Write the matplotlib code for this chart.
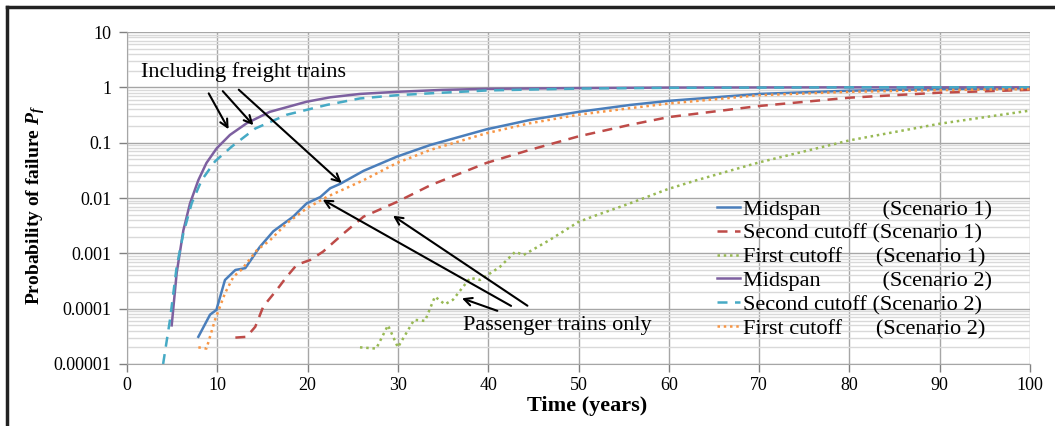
import numpy as np
import matplotlib.pyplot as plt
from matplotlib.ticker import LogLocator, FixedFormatter, FixedLocator
from matplotlib.lines import Line2D

plt.rcParams['font.family'] = ['Liberation Serif', 'DejaVu Serif']
plt.rcParams['mathtext.fontset'] = 'custom'
plt.rcParams['mathtext.it'] = 'Liberation Serif:italic:bold'
plt.rcParams['mathtext.rm'] = 'Liberation Serif:bold'

# Scenario 1 - midspan
t_mid1 = [7.9, 9.2, 9.9, 10.85, 12.0, 13.1, 14.7, 16.2, 18.4, 19.9, 21.4, 22.5, 23.6, 26.2, 29.9, 33.6,
          39.8, 44.6, 50.0, 55.7, 60, 70, 80, 90, 100]
p_mid1 = [3.1e-5, 7.8e-5, 9.5e-5, 3.3e-4, 5.0e-4, 5.4e-4, 1.3e-3, 2.5e-3, 4.6e-3, 8e-3, 0.0104, 0.015,
          0.018, 0.031, 0.056, 0.091, 0.174, 0.257, 0.36, 0.48, 0.57, 0.76, 0.87, 0.93, 0.96]
# Scenario 1 - second cutoff
t_sec1 = [12.0, 13.25, 14.2, 15.1, 16.6, 17.7, 18.8, 20.3, 21.7, 24.0, 26.2, 29.9, 33.6, 39.8, 44.6, 50.0,
          55.7, 60, 70, 80, 90, 100]
p_sec1 = [3e-5, 3.1e-5, 4.7e-5, 1.1e-4, 2.2e-4, 3.8e-4, 6.2e-4, 7.6e-4, 1.07e-3, 2.3e-3, 4.6e-3, 8.5e-3,
          0.017, 0.043, 0.074, 0.13, 0.21, 0.29, 0.46, 0.65, 0.80, 0.90]
# Scenario 1 - first cutoff
t_fst1 = [25.8, 27.6, 28.9, 30.0, 31.8, 33.0, 34.1, 35.2, 36.1, 38.0, 39.1, 41.3, 43.0, 43.9, 46.8, 50.0,
          52.0, 55.7, 59.9, 63.1, 70, 80, 90, 100]
p_fst1 = [2e-5, 1.9e-5, 5e-5, 2e-5, 6.3e-5, 6e-5, 1.65e-4, 1.2e-4, 1.45e-4, 3.6e-4, 3.3e-4, 5.7e-4,
          1.07e-3, 9.3e-4, 1.74e-3, 3.7e-3, 4.9e-3, 8e-3, 0.0145, 0.021, 0.044, 0.11, 0.22, 0.38]
# Scenario 2 - midspan
t_mid2 = [4.95, 5.5, 6.24, 6.98, 7.9, 8.8, 9.93, 11.4, 13.25, 15.8, 19.9, 22.5, 25.8, 29.9, 35, 40, 50,
          60, 80, 100]
p_mid2 = [5e-5, 4.4e-4, 2.6e-3, 8e-3, 0.021, 0.043, 0.079, 0.138, 0.224, 0.36, 0.55, 0.66, 0.76, 0.83,
          0.9, 0.94, 0.97, 0.99, 1.0, 1.0]
# Scenario 2 - second cutoff
t_sec2 = [4.0, 4.76, 5.5, 6.24, 7.16, 8.27, 9.75, 11.6, 14.2, 17.7, 22.1, 25.8, 29.9, 33.6, 40, 50, 60,
          80, 100]
p_sec2 = [1e-5, 6.3e-5, 5.7e-4, 2.3e-3, 8e-3, 0.021, 0.046, 0.085, 0.18, 0.32, 0.48, 0.63, 0.72, 0.78,
          0.88, 0.95, 0.98, 1.0, 1.0]
# Scenario 2 - first cutoff
t_fst2 = [7.9, 8.8, 9.75, 10.85, 11.8, 12.7, 14.4, 15.8, 17.7, 19.9, 22.1, 26.2, 29.9, 33.6, 39.8, 44.6,
          50.0, 55.7, 60, 70, 80, 90, 100]
p_fst2 = [2e-5, 1.9e-5, 6.3e-5, 1.9e-4, 3.8e-4, 5.1e-4, 1.15e-3, 1.7e-3, 3.5e-3, 6.5e-3, 0.0104, 0.021,
          0.043, 0.074, 0.148, 0.224, 0.32, 0.42, 0.51, 0.72, 0.83, 0.89, 0.93]

labels = ['Midspan           (Scenario 1)', 'Second cutoff (Scenario 1)', 'First cutoff      (Scenario 1)',
          'Midspan           (Scenario 2)', 'Second cutoff (Scenario 2)', 'First cutoff      (Scenario 2)']
ytick_vals = [1e-5, 1e-4, 1e-3, 1e-2, 1e-1, 1, 10]
ytick_labels = ['0.00001', '0.0001', '0.001', '0.01', '0.1', '1', '10']

fig = plt.figure(figsize=(10.55, 4.26), dpi=100)
ax = fig.add_axes([127/1055, 1-364/426, (1030-127)/1055, (364-32)/426])

ax.plot(t_mid1, p_mid1, color='#4a7ebb', lw=1.8, label=labels[0])
ax.plot(t_sec1, p_sec1, color='#be4b48', lw=1.8, ls=(0, (4, 3)), label=labels[1])
ax.plot(t_fst1, p_fst1, color='#98b954', lw=1.8, ls=(0, (1, 1.5)), label=labels[2])
ax.plot(t_mid2, p_mid2, color='#7d60a0', lw=1.8, label=labels[3])
ax.plot(t_sec2, p_sec2, color='#46aac5', lw=1.8, ls=(0, (4, 3)), label=labels[4])
ax.plot(t_fst2, p_fst2, color='#f79646', lw=1.8, ls=(0, (1, 1.5)), label=labels[5])

ax.set_yscale('log')
ax.set_xlim(0, 100)
ax.set_ylim(1e-5, 10)
ax.set_xticks(np.arange(0, 101, 10))
ax.yaxis.set_major_locator(FixedLocator(ytick_vals))
ax.yaxis.set_major_formatter(FixedFormatter(ytick_labels))
ax.yaxis.set_minor_locator(LogLocator(base=10, subs=np.arange(2, 10), numticks=20))
ax.tick_params(axis='y', which='minor', length=0)
ax.tick_params(axis='both', which='major', labelsize=13, color='#808080', length=6, width=1)
ax.tick_params(axis='y', which='major', pad=5)
ax.grid(True, which='major', axis='both', color='#a6a6a6', lw=1.0)
ax.grid(True, which='minor', axis='y', color='#d9d9d9', lw=1.0)
ax.set_axisbelow(True)
for s in ['top', 'right']:
    ax.spines[s].set_visible(False)
for s in ['left', 'bottom']:
    ax.spines[s].set_color('#a6a6a6')

ax.set_xlabel('Time (years)', fontsize=16, fontweight='bold', labelpad=2)
ax.xaxis.set_label_coords(0.51, -0.095)
ax.set_ylabel(r'Probability of failure $P_f$', fontsize=14, fontweight='bold')
ax.yaxis.set_label_coords(-0.0886, 0.48)

ax.text(1.55, 1.9, 'Including freight trains', fontsize=16, va='center', ha='left')
arr = dict(arrowstyle='->', color='black', lw=1.5, mutation_scale=14)
ax.annotate('', xy=(11.4, 0.158), xytext=(8.9, 0.86), arrowprops=arr)
ax.annotate('', xy=(14.2, 0.19), xytext=(10.4, 0.93), arrowprops=arr)
ax.annotate('', xy=(24.0, 0.0172), xytext=(12.15, 0.98), arrowprops=arr)

ax.text(37.2, 4.9e-5, 'Passenger trains only', fontsize=16, va='center', ha='left')
ax.annotate('', xy=(36.8, 1.6e-4), xytext=(41.3, 8.8e-5), arrowprops=arr)
ax.annotate('', xy=(21.4, 0.0099), xytext=(42.8, 1.06e-4), arrowprops=arr)
ax.annotate('', xy=(29.2, 0.0051), xytext=(44.6, 1.06e-4), arrowprops=arr)

ax.legend(loc='upper left', bbox_to_anchor=(0.653, 0.497), frameon=False, fontsize=16,
          handlelength=1.05, handletextpad=0.15, labelspacing=0.15, borderpad=0, borderaxespad=0)

fig.add_artist(Line2D([7/1055, 7/1055], [0, 1-7/426], color='#222222', lw=2.5, transform=fig.transFigure))
fig.add_artist(Line2D([7/1055, 1], [1-7/426, 1-7/426], color='#222222', lw=2.5, transform=fig.transFigure))

fig.savefig('out.png', dpi=100)
